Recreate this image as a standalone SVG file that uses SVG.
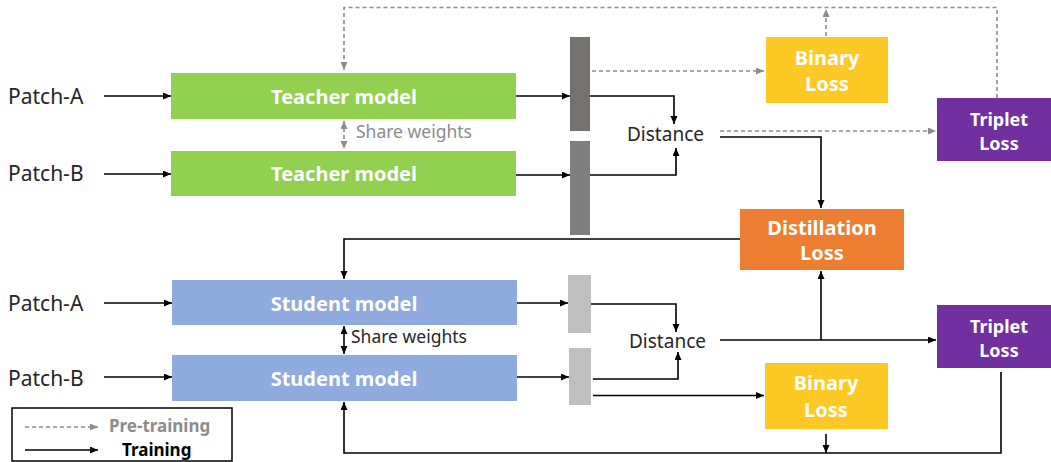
<svg xmlns="http://www.w3.org/2000/svg" width="1051" height="462" viewBox="0 0 1051 462">
<defs>
<marker id="ab" markerUnits="userSpaceOnUse" markerWidth="9" markerHeight="8" refX="8" refY="3.5" orient="auto-start-reverse"><path d="M0,0 L8,3.5 L0,7 z" fill="#000"/></marker>
<marker id="ag" markerUnits="userSpaceOnUse" markerWidth="9" markerHeight="8" refX="8" refY="3.5" orient="auto-start-reverse"><path d="M0,0 L8,3.5 L0,7 z" fill="#8c8c8c"/></marker>
</defs>
<style>
.t{font-family:"Noto Sans","Liberation Sans",sans-serif}
.lab{font-size:21px;fill:#262626}
.mod{font-size:20px;font-weight:bold;fill:#fff;text-anchor:middle}
.loss{font-size:20px;font-weight:bold;fill:#fff;text-anchor:middle}
.trip{font-size:18px;font-weight:bold;fill:#fff;text-anchor:middle}
.leg{font-size:17px;font-weight:bold}
.tr{fill:none;stroke:#000;stroke-width:1.6}
.pt{fill:none;stroke:#8c8c8c;stroke-width:1.6;stroke-dasharray:4 3}
</style>
<rect width="1051" height="462" fill="#fff"/>

<g id="labels" class="t lab">
<text x="8" y="104">Patch-A</text>
<text x="8" y="181">Patch-B</text>
<text x="8" y="311">Patch-A</text>
<text x="8" y="386">Patch-B</text>
<text x="356" y="138" style="font-size:17.5px;fill:#8c8c8c">Share weights</text>
<text x="351" y="343" style="font-size:17.5px">Share weights</text>
<text x="627" y="141" style="font-size:19px">Distance</text>
<text x="629" y="348" style="font-size:19px">Distance</text>
</g>

<g id="teacher1"><rect x="171" y="73" width="345" height="46" fill="#92d050"/><text class="t mod" x="344" y="104">Teacher model</text></g>
<g id="teacher2"><rect x="171" y="151" width="345" height="45" fill="#92d050"/><text class="t mod" x="344" y="181">Teacher model</text></g>
<g id="student1"><rect x="172" y="280" width="345" height="45" fill="#8faadc"/><text class="t mod" x="344" y="311">Student model</text></g>
<g id="student2"><rect x="172" y="355" width="345" height="46" fill="#8faadc"/><text class="t mod" x="344" y="386">Student model</text></g>

<g id="tbar1"><rect x="570" y="37" width="20" height="94" fill="#767171"/></g>
<g id="tbar2"><rect x="570" y="141" width="20" height="94" fill="#7f7f7f"/></g>
<g id="sbar1"><rect x="568" y="275" width="23" height="58" fill="#bfbfbf"/></g>
<g id="sbar2"><rect x="569" y="348" width="22" height="57" fill="#bfbfbf"/></g>

<g id="binary1"><rect x="766" y="37" width="122" height="66" fill="#ffc925"/><text class="t loss" x="827" y="65">Binary</text><text class="t loss" x="827" y="91">Loss</text></g>
<g id="triplet1"><rect x="937" y="98" width="114" height="63" fill="#7030a0"/><text class="t trip" x="999" y="126">Triplet</text><text class="t trip" x="999" y="150">Loss</text></g>
<g id="distill"><rect x="740" y="209" width="164" height="61" fill="#ed7d31"/><text class="t loss" x="822" y="235">Distillation</text><text class="t loss" x="822" y="260">Loss</text></g>
<g id="triplet2"><rect x="937" y="305" width="114" height="63" fill="#7030a0"/><text class="t trip" x="999" y="333">Triplet</text><text class="t trip" x="999" y="357">Loss</text></g>
<g id="binary2"><rect x="765" y="363" width="123" height="66" fill="#ffc925"/><text class="t loss" x="826" y="390">Binary</text><text class="t loss" x="826" y="417">Loss</text></g>

<g id="legend">
<rect x="12" y="408" width="220" height="53" fill="#fff" stroke="#000" stroke-width="1.5"/>
<path class="pt" d="M25,427 H98" marker-end="url(#ag)"/>
<path class="tr" d="M25,450 H98" marker-end="url(#ab)"/>
<text class="t leg" x="109" y="432" style="fill:#8c8c8c">Pre-training</text>
<text class="t leg" x="122" y="456" style="fill:#000">Training</text>
</g>

<g id="connectors">
<path class="tr" d="M104,96 H171" marker-end="url(#ab)"/>
<path class="tr" d="M104,174 H171" marker-end="url(#ab)"/>
<path class="tr" d="M516,96 H570" marker-end="url(#ab)"/>
<path class="tr" d="M516,175 H570" marker-end="url(#ab)"/>
<path class="tr" d="M590,96 H674 V124" marker-end="url(#ab)"/>
<path class="tr" d="M590,175 H676 V148" marker-end="url(#ab)"/>
<path class="tr" d="M720,137 H821 V208" marker-end="url(#ab)"/>
<path class="tr" d="M740,239 H344 V279" marker-end="url(#ab)"/>
<path class="tr" d="M104,303 H172" marker-end="url(#ab)"/>
<path class="tr" d="M104,377 H172" marker-end="url(#ab)"/>
<path class="tr" d="M517,303 H568" marker-end="url(#ab)"/>
<path class="tr" d="M517,377 H569" marker-end="url(#ab)"/>
<path class="tr" d="M591,304 H676 V332" marker-end="url(#ab)"/>
<path class="tr" d="M593,379 H678 V352" marker-end="url(#ab)"/>
<path class="tr" d="M593,395.5 H764" marker-end="url(#ab)"/>
<path class="tr" d="M720,340 H936" marker-end="url(#ab)"/>
<path class="tr" d="M821,340 V271" marker-end="url(#ab)"/>
<path class="tr" d="M1001,372 V453 H344 V402" marker-end="url(#ab)"/>
<path class="tr" d="M826,434 V453" marker-end="url(#ab)"/>
<path class="tr" d="M344,326 V354" marker-start="url(#ab)" marker-end="url(#ab)"/>
<path class="pt" d="M592,71 H764" marker-end="url(#ag)"/>
<path class="pt" d="M720,131 H936" marker-end="url(#ag)"/>
<path class="pt" d="M997,98 V7.5 H344 V70" marker-end="url(#ag)"/>
<path class="pt" d="M826,36 V9" marker-end="url(#ag)"/>
<path class="pt" d="M344,121 V149" marker-start="url(#ag)" marker-end="url(#ag)"/>
</g>
</svg>
